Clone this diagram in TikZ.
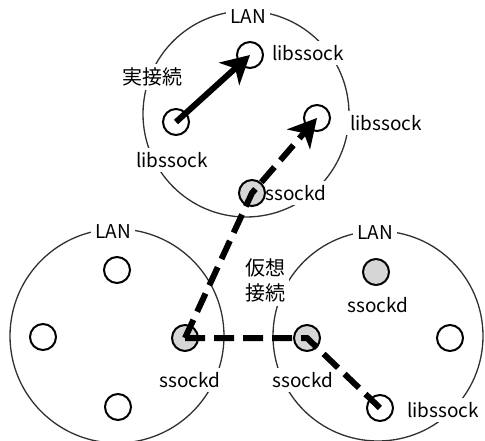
\documentclass[tikz,border=0pt]{standalone}
\usepackage{fontspec}
\setmainfont{Noto Sans CJK JP}
\usetikzlibrary{arrows.meta}
\definecolor{nodegray}{HTML}{D6D6D6}
\definecolor{lancol}{HTML}{303030}
\begin{document}
\begin{tikzpicture}[x=1pt,y=-1pt,
  lan/.style={draw=lancol,line width=1.3pt,circle,minimum size=#1,inner sep=0pt},
  lbl/.style={fill=white,inner sep=4pt,font=\fontsize{19}{21}\selectfont,text=black},
  jlbl/.style={fill=white,inner sep=4pt,font=\fontsize{20}{25}\selectfont,text=black,align=center},
  host/.style={circle,draw=black,line width=2pt,fill=white,minimum size=26pt,inner sep=0pt},
  daemon/.style={host,fill=nodegray},
  real/.style={line width=6pt,-{Stealth[length=28pt,width=30pt,inset=8pt]}},
  virt/.style={line width=6pt,dash pattern=on 20pt off 9pt},
  virtarrow/.style={virt,-{Stealth[length=28pt,width=30pt,inset=8pt]}}]
\useasboundingbox (0,0) rectangle (485,441);
% LAN circles
\node[lan=206pt] (C1) at (246,114) {};
\node[lan=214pt] (C2) at (117,336) {};
\node[lan=210pt] (C3) at (378,336) {};
% labels
\node[lbl] (lan1) at (248,17) {LAN};
\node[jlbl] (jitsu) at (152,77) {実接続};
\node[lbl] (l1) at (308,53) {libssock};
\node[lbl] (l2) at (172,160) {libssock};
\node[lbl] (l3) at (386,123) {libssock};
\node[lbl] (s1) at (296,193) {ssockd};
\node[lbl] (lan2) at (113,232) {LAN};
\node[lbl] (s2) at (190,380) {ssockd};
\node[lbl] (lan3) at (375,233) {LAN};
\node[jlbl] (kaso) at (265,280) {仮想\\接続};
\node[lbl] (s3) at (378,305) {ssockd};
\node[lbl] (s4) at (303,380) {ssockd};
\node[lbl] (l4) at (443,410) {libssock};
% hosts
\node[host] (tU) at (250,55) {};
\node[host] (tL) at (176,122) {};
\node[host] (tR) at (317,118) {};
\node[daemon] (tS) at (252,193) {};
\node[host] (bT) at (117,270) {};
\node[host] (bL) at (43,337) {};
\node[daemon] (bS) at (185,338) {};
\node[host] (bB) at (118,407) {};
\node[daemon] (rS1) at (376,272) {};
\node[host] (rR) at (450,338) {};
\node[daemon] (rS2) at (307,338) {};
\node[host] (rL) at (380,408) {};
% connections
\draw[real] (tL.center) -- (tU.center);
\draw[virtarrow] (bS.center) -- (tS.center) -- (tR.center);
\draw[virt] (bS.center) -- (rS2.center) -- (rL.center);
\end{tikzpicture}
\end{document}
